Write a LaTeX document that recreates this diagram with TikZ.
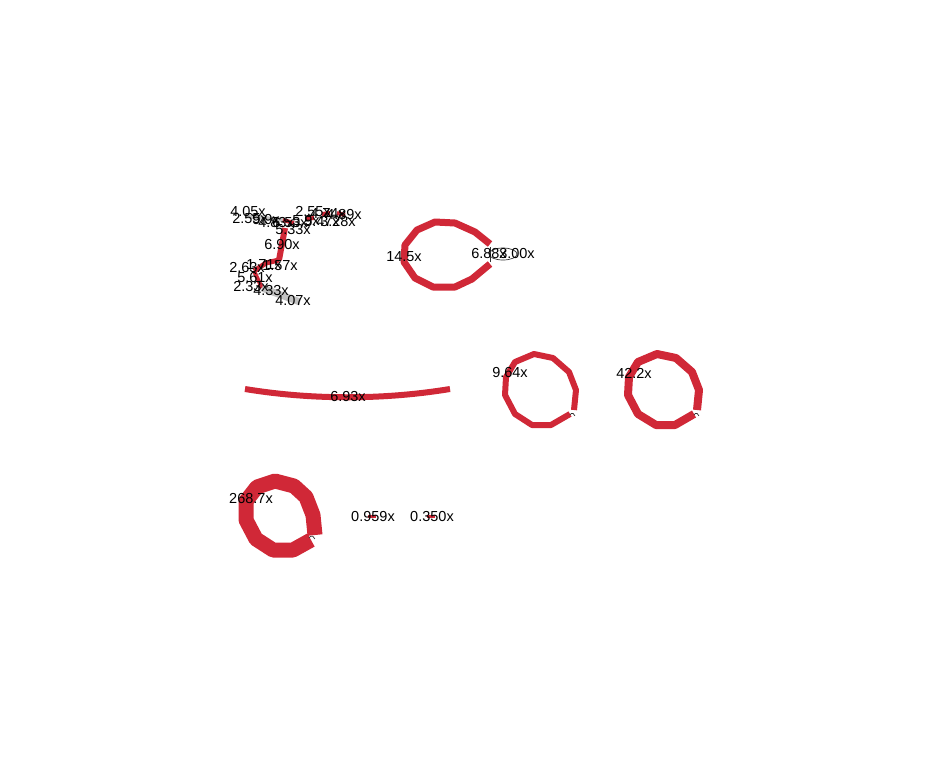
\documentclass[tikz,border=0pt]{standalone}
\usepackage{fontspec}
\setmainfont{Liberation Sans}
\usetikzlibrary{calc}
\definecolor{lred}{RGB}{208,40,55}
\definecolor{lgrey}{RGB}{195,195,195}
\begin{document}
\begin{tikzpicture}[x=1pt,y=-1pt,
  lbl/.style={inner sep=0pt,font=\fontsize{14.5}{16}\selectfont,text=black},
  edge/.style={draw=lred,line width=#1,line join=round},
  gedge/.style={draw=lgrey,line width=#1},
  thin/.style={draw=black!80,line width=0.7pt}]
\useasboundingbox (0,0) rectangle (943,769);
\fill[white] (0,0) rectangle (943,769);

% ---- top-left cluster ----
\coordinate (c1) at (285,228);
\coordinate (c2) at (279,260);
\coordinate (c3) at (266,263);
\coordinate (c4) at (254,271);
\coordinate (c5) at (262,288);
\coordinate (c6) at (300,302);
\draw[edge=6pt] (c1) -- (c2);
\draw[edge=5pt] (c2) -- (c3) -- (c4);
\draw[edge=4pt] (c4) -- (c5);
\draw[gedge=7pt] (c5) -- (c6);
\coordinate (t1) at (283,220);
\coordinate (t2) at (294,223);
\coordinate (t3) at (306,219);
\coordinate (t4) at (314,218);
\coordinate (t5) at (322,214);
\coordinate (t6) at (330,213);
\coordinate (t7) at (337,213);
\coordinate (t8) at (345,215);
\draw[gedge=4pt] (245,216) -- (t1);
\draw[edge=4pt] (t1) -- (t2);
\draw[edge=4pt] (t3) -- (t4);
\draw[edge=4pt] (t5) -- (t6);
\draw[edge=4pt] (t7) -- (t8);

\node[lbl] (l1) at (248,212) {4.05x};
\node[lbl] (l2) at (250,219) {2.55x};
\node[lbl] (l3) at (266,220) {9.9x};
\node[lbl] (l4) at (276,223) {4.83x};
\node[lbl] (l5) at (290,223) {6.53x};
\node[lbl] (l6) at (306,221) {5.9x};
\node[lbl] (l7) at (293,230) {5.33x};
\node[lbl] (l8) at (313,212) {2.55x};
\node[lbl] (l9) at (328,214) {4.74x};
\node[lbl] (l10) at (344,215) {4.89x};
\node[lbl] (l11) at (322,222) {5.47x};
\node[lbl] (l12) at (338,222) {3.28x};
\node[lbl] (l13) at (282,245) {6.90x};
\node[lbl] (l14) at (247,268) {2.63x};
\node[lbl] (l15) at (264,265) {1.71x};
\node[lbl] (l16) at (280,266) {1.57x};
\node[lbl] (l17) at (255,278) {5.61x};
\node[lbl] (l18) at (251,287) {2.33x};
\node[lbl] (l19) at (271,291) {4.33x};
\node[lbl] (l20) at (293,301) {4.07x};

% ---- loop 14.5x ----
\draw[edge=7pt] (490,244) -- (475,232) -- (455,223) -- (435,222) -- (417,230) -- (405,245) -- (404,262) -- (415,278) -- (433,287) -- (455,287) -- (472,279) -- (490,264);
\draw[thin] (490,247) -- (490,262);
\draw[thin] (503,254) ellipse (14 and 6);
\node[lbl] (l21) at (404,257) {14.5x};
\node[lbl] (l22) at (489,254) {6.88x};
\node[lbl] (l23) at (517,254) {3.00x};

% ---- arc 6.93x ----
\coordinate (a1) at (245,389);
\coordinate (a2) at (450,389);
\draw[edge=6pt] (a1) .. controls (312,400) and (383,400) .. (a2);
\node[lbl] (l24) at (348,397) {6.93x};

% ---- loop 9.64x ----
\draw[edge=6pt] (574,410) -- (576,390) -- (569,372) -- (553,358) -- (534,354) -- (515,362) -- (506,377) -- (505,395) -- (515,414) -- (532,425) -- (551,425) -- (570,414);
\draw[thin] (570,415) arc (200:360:2.5);
\node[lbl] (l25) at (510,373) {9.64x};

% ---- loop 42.2x ----
\draw[edge=8pt] (697,410) -- (699,390) -- (692,372) -- (676,358) -- (657,354) -- (638,362) -- (629,377) -- (628,395) -- (638,414) -- (656,425) -- (675,425) -- (694,414);
\draw[thin] (694,415) arc (200:360:2.5);
\node[lbl] (l26) at (634,373) {42.2x};

% ---- loop 268.7x ----
\draw[edge=15pt] (315,535) -- (313,515) -- (306,497) -- (294,486) -- (275,481) -- (257,487) -- (246,501) -- (246,520) -- (256,539) -- (273,550) -- (293,550) -- (311,540);
\draw[thin] (309,538) arc (200:360:3);
\node[lbl] (l27) at (251,499) {268.7x};

% ---- small ----
\coordinate (s1) at (372,516);
\coordinate (s2) at (431,516);
\draw[edge=3pt] ($(s1)+(-4,0)$) -- ($(s1)+(4,0)$);
\draw[edge=3pt] ($(s2)+(-4,0)$) -- ($(s2)+(4,0)$);
\node[lbl] (l28) at (373,517) {0.959x};
\node[lbl] (l29) at (432,517) {0.350x};
\end{tikzpicture}
\end{document}
